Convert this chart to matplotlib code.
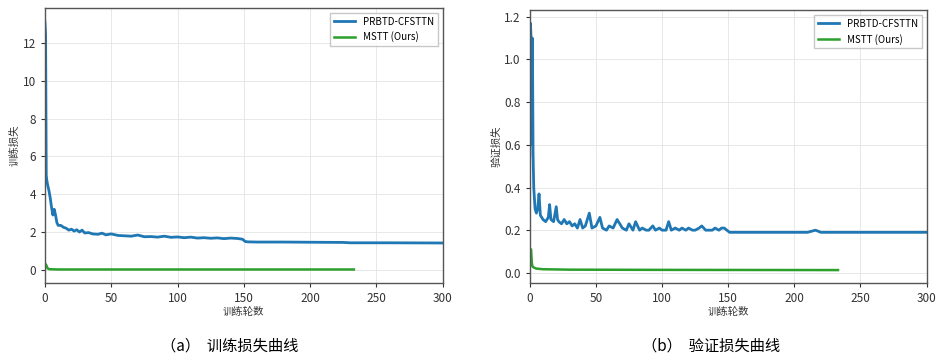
import matplotlib
matplotlib.use("Agg")
import matplotlib.pyplot as plt

plt.rcParams["font.family"] = ["Noto Sans CJK SC", "DejaVu Sans"]

# (a) training loss
train_epochs_prbtd = [0, 0.5, 1, 1.5, 2, 3, 4, 5, 6, 7, 8, 9, 10, 12, 14, 16, 18, 20, 22, 24,
                      26, 28, 30, 33, 36, 40, 43, 46, 50, 55, 60, 65, 70, 75, 80, 85, 90, 95,
                      100, 105, 110, 115, 120, 125, 130, 135, 140, 145, 149, 151, 153, 160,
                      180, 200, 225, 230, 260, 300]
train_loss_prbtd = [13.1, 12.4, 5.0, 4.7, 4.5, 4.2, 3.8, 3.3, 2.9, 3.2, 2.9, 2.5, 2.35, 2.35,
                    2.25, 2.2, 2.1, 2.15, 2.05, 2.12, 2.0, 2.1, 1.95, 1.97, 1.9, 1.88, 1.94,
                    1.85, 1.9, 1.82, 1.8, 1.78, 1.84, 1.75, 1.76, 1.73, 1.78, 1.72, 1.74, 1.7,
                    1.73, 1.68, 1.7, 1.67, 1.69, 1.65, 1.68, 1.66, 1.62, 1.5, 1.48, 1.47, 1.47,
                    1.46, 1.45, 1.43, 1.43, 1.42]
train_epochs_mstt = [0, 1, 2, 3, 5, 10, 50, 100, 150, 200, 233]
train_loss_mstt = [0.35, 0.25, 0.08, 0.04, 0.03, 0.02, 0.02, 0.02, 0.02, 0.02, 0.02]

# (b) validation loss
val_epochs_prbtd = [0, 0.5, 1, 1.5, 2, 2.5, 3, 4, 5, 6, 7, 8, 9, 10, 12, 14, 15, 16, 18, 20,
                    21, 22, 24, 26, 28, 30, 32, 34, 36, 38, 40, 42, 45, 47, 50, 53, 55, 58, 60,
                    63, 66, 68, 70, 73, 75, 78, 80, 83, 85, 88, 90, 93, 95, 98, 100, 103, 105,
                    107, 110, 113, 115, 118, 120, 123, 125, 128, 130, 133, 135, 138, 140, 143,
                    145, 147, 149, 151, 160, 180, 200, 210, 216, 220, 240, 260, 280, 300]
val_loss_prbtd = [0.55, 1.17, 1.1, 0.6, 1.1, 0.55, 0.4, 0.3, 0.28, 0.3, 0.37, 0.27, 0.26, 0.25,
                  0.24, 0.26, 0.32, 0.25, 0.24, 0.31, 0.25, 0.24, 0.23, 0.25, 0.23, 0.24, 0.22,
                  0.23, 0.21, 0.25, 0.21, 0.22, 0.28, 0.21, 0.22, 0.26, 0.21, 0.2, 0.22, 0.21,
                  0.25, 0.23, 0.21, 0.2, 0.23, 0.2, 0.24, 0.2, 0.21, 0.2, 0.2, 0.22, 0.2, 0.21,
                  0.2, 0.2, 0.24, 0.2, 0.21, 0.2, 0.21, 0.2, 0.21, 0.2, 0.2, 0.21, 0.22, 0.2,
                  0.2, 0.2, 0.21, 0.2, 0.21, 0.21, 0.2, 0.19, 0.19, 0.19, 0.19, 0.19, 0.2, 0.19,
                  0.19, 0.19, 0.19, 0.19]
val_epochs_mstt = [0, 1, 1.5, 2, 3, 5, 10, 30, 100, 233]
val_loss_mstt = [0.11, 0.11, 0.05, 0.03, 0.025, 0.02, 0.017, 0.015, 0.014, 0.013]

labels = ["PRBTD-CFSTTN", "MSTT (Ours)"]
xlabel = "训练轮数"
ylabels = ["训练损失", "验证损失"]
captions = ["（a）  训练损失曲线", "（b）  验证损失曲线"]

BLUE = "#1f77b4"
GREEN = "#2ca02c"

fig = plt.figure(figsize=(9.36, 3.57), dpi=100)
ax_a = fig.add_axes([0.048, 0.207, 0.425, 0.771])
ax_b = fig.add_axes([0.566, 0.207, 0.424, 0.765])

panels = [
    (ax_a, train_epochs_prbtd, train_loss_prbtd, train_epochs_mstt, train_loss_mstt,
     (-0.7, 13.85), [0, 2, 4, 6, 8, 10, 12], "{:.0f}"),
    (ax_b, val_epochs_prbtd, val_loss_prbtd, val_epochs_mstt, val_loss_mstt,
     (-0.048, 1.232), [0.0, 0.2, 0.4, 0.6, 0.8, 1.0, 1.2], "{:.1f}"),
]

for i, (ax, xb, yb, xg, yg, ylim, yticks, fmt) in enumerate(panels):
    ax.plot(xb, yb, color=BLUE, lw=2.0, label=labels[0])
    ax.plot(xg, yg, color=GREEN, lw=1.8, label=labels[1])
    ax.set_xlim(0, 300)
    ax.set_ylim(*ylim)
    ax.set_xticks([0, 50, 100, 150, 200, 250, 300])
    ax.set_yticks(yticks)
    ax.set_yticklabels([fmt.format(v) for v in yticks])
    ax.grid(True, color="#e4e4e4", lw=0.6)
    ax.tick_params(labelsize=8.5, colors="#333333", length=3)
    for sp in ax.spines.values():
        sp.set_color("#555555")
        sp.set_linewidth(1.0)
    ax.set_xlabel(xlabel, fontsize=7.5, color="#333333", labelpad=1)
    ax.set_ylabel(ylabels[i], fontsize=7.5, color="#333333", labelpad=2)
    ax.legend(loc="upper right", fontsize=7, frameon=True, edgecolor="#bbbbbb",
              fancybox=False, handlelength=2.2)

fig.text(0.245, 0.03, captions[0], ha="center", va="center", fontsize=11)
fig.text(0.760, 0.03, captions[1], ha="center", va="center", fontsize=11)

fig.savefig("out.png", dpi=100)
